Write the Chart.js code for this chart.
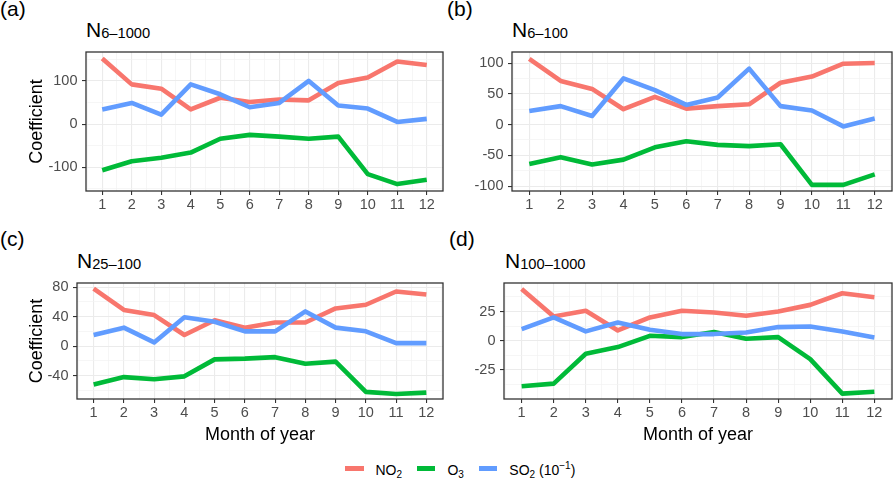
<!DOCTYPE html>
<html>
<head>
<meta charset="utf-8">
<script src="https://cdn.jsdelivr.net/npm/chart.js@4.4.0/dist/chart.umd.min.js"></script>
<style>
body { margin: 0; background: #fff; width: 894px; height: 481px; position: relative; overflow: hidden;
       font-family: "Liberation Sans", Arial, sans-serif; color: #000; }
.panel { position: absolute; width: 447px; }
.tag, .ttl { position: absolute; font-size: 21px; line-height: 21px; white-space: nowrap; }
.ttl .sb { font-size: 14.7px; position: relative; top: 1px; }
#legend { position: absolute; left: 345px; top: 463px; font-size: 14px; line-height: 14px; white-space: nowrap; }
#legend .key { display: inline-block; width: 18.5px; height: 4.5px; vertical-align: middle; position: relative; top: -3px; }
#legend .lab { margin-left: 12px; margin-right: 11px; }
#legend .sb { font-size: 10px; position: relative; top: 3px; }
#legend .sp { font-size: 10px; position: relative; top: -6px; }
</style>
</head>
<body>

<div class="tag" style="left:0px; top:-2.5px;">(a)</div>
<div class="tag" style="left:447px; top:-2.5px;">(b)</div>
<div class="tag" style="left:0px; top:228px;">(c)</div>
<div class="tag" style="left:449px; top:228px;">(d)</div>

<div class="ttl" style="left:86px; top:19px;">N<span class="sb">6–1000</span></div>
<div class="ttl" style="left:512px; top:19px;">N<span class="sb">6–100</span></div>
<div class="ttl" style="left:77px; top:250px;">N<span class="sb">25–100</span></div>
<div class="ttl" style="left:505px; top:250px;">N<span class="sb">100–1000</span></div>

<div class="panel" style="left:0; top:0; height:220px;"><canvas id="pa"></canvas></div>
<div class="panel" style="left:447px; top:0; height:220px;"><canvas id="pb"></canvas></div>
<div class="panel" style="left:0; top:220px; height:230px;"><canvas id="pc"></canvas></div>
<div class="panel" style="left:447px; top:220px; height:230px;"><canvas id="pd"></canvas></div>

<div id="legend">
  <span class="key" style="background:#F8766D"></span><span class="lab">NO<span class="sb">2</span></span>
  <span class="key" style="background:#00BA38"></span><span class="lab">O<span class="sb">3</span></span>
  <span class="key" style="background:#619CFF"></span><span class="lab">SO<span class="sb">2</span> (10<span class="sp">−1</span>)</span>
</div>

<script>
// months on the x axis
var months = [1, 2, 3, 4, 5, 6, 7, 8, 9, 10, 11, 12];

// (a) N6-1000
var no2A = [152, 92, 82, 34, 61, 51, 57, 55, 95, 108, 145, 137];
var o3A  = [-107, -86, -78, -66, -34, -25, -29, -34, -29, -116, -139, -129];
var so2A = [34, 49, 22, 92, 69, 39, 49, 100, 43, 36, 5, 12];
var yMajorA = [-100, 0, 100];
var yMinorA = [-150, -50, 50, 150];

// (b) N6-100
var no2B = [107, 71, 58, 25, 45, 26, 30, 33, 68, 78, 99, 100];
var o3B  = [-64, -53, -65, -57, -37, -27, -33, -35, -32, -98, -98, -81];
var so2B = [22, 30, 14, 75, 56, 32, 44, 91, 30, 23, -3, 10];
var yMajorB = [-100, -50, 0, 50, 100];
var yMinorB = [-75, -25, 25, 75];

// (c) N25-100
var no2C = [78, 49, 42, 15, 35, 25, 32, 32, 51, 56, 74, 70];
var o3C  = [-52, -42, -45, -41, -18, -17, -15, -24, -21, -62, -65, -63];
var so2C = [15, 25, 5, 39, 33, 20, 20, 47, 25, 20, 4, 4];
var yMajorC = [-40, 0, 40, 80];
var yMinorC = [-60, -20, 20, 60];

// (d) N100-1000
var no2D = [44.4, 20.7, 25.6, 8.7, 19.9, 25.6, 24.1, 21.3, 25, 30.7, 40.7, 37.3];
var o3D  = [-39.3, -37, -11.3, -5.6, 4.1, 3, 7.3, 1.6, 3, -15.9, -45.6, -44];
var so2D = [9.9, 19.9, 7.9, 15.6, 9.3, 5.6, 5.6, 7, 11.6, 12.1, 7.9, 2.7];
var yMajorD = [-25, 0, 25];
var yMinorD = [-37.5, -12.5, 12.5, 37.5];

Chart.defaults.font.family = '"Liberation Sans", Arial, sans-serif';
Chart.defaults.animation = false;

var panelBorder = {
    id: 'panelBorder',
    afterDatasetsDraw: function (chart) {
        var a = chart.chartArea, ctx = chart.ctx;
        ctx.save();
        ctx.strokeStyle = '#333333';
        ctx.lineWidth = 1.3;
        ctx.strokeRect(a.left, a.top, a.right - a.left, a.bottom - a.top);
        ctx.restore();
    }
};

function pts(arr) {
    return months.map(function (m, i) { return { x: m, y: arr[i] }; });
}

function gridOpts(majors) {
    return {
        color: function (c) { return majors.indexOf(c.tick.value) >= 0 ? '#EBEBEB' : '#F2F2F2'; },
        lineWidth: function (c) { return majors.indexOf(c.tick.value) >= 0 ? 1.1 : 0.7; },
        tickColor: function (c) { return majors.indexOf(c.tick.value) >= 0 ? '#333333' : 'rgba(0,0,0,0)'; },
        tickLength: 4,
        tickWidth: 1.1
    };
}

function makePanel(id, no2, o3, so2, yMin, yMax, yMajor, yMinor, box) {
    var xMinor = months.map(function (m) { return m - 0.5; }).concat([12.5]);
    var xTicks = months.concat(xMinor).sort(function (p, q) { return p - q; });
    var yTicks = yMajor.concat(yMinor).sort(function (p, q) { return p - q; });

    return new Chart(document.getElementById(id).getContext('2d'), {
        type: 'line',
        data: {
            datasets: [{
                label: 'NO2', data: pts(no2), borderColor: '#F8766D', order: 3
            }, {
                label: 'O3', data: pts(o3), borderColor: '#00BA38', order: 2
            }, {
                label: 'SO2', data: pts(so2), borderColor: '#619CFF', order: 1
            }]
        },
        options: {
            responsive: true,
            maintainAspectRatio: false,
            devicePixelRatio: 1,
            layout: { padding: { left: 0, top: box.top, right: box.right, bottom: 0 } },
            elements: {
                line: { borderWidth: 4.6, tension: 0, fill: false, borderCapStyle: 'butt', borderJoinStyle: 'round' },
                point: { radius: 0 }
            },
            plugins: { legend: { display: false }, tooltip: { enabled: false } },
            scales: {
                x: {
                    type: 'linear', min: 0.45, max: 12.55,
                    afterBuildTicks: function (s) { s.ticks = xTicks.map(function (v) { return { value: v }; }); },
                    afterFit: function (s) { s.height = box.xh; },
                    border: { display: false },
                    grid: gridOpts(months),
                    ticks: {
                        autoSkip: false, maxRotation: 0, padding: 1,
                        color: '#4D4D4D', font: { size: 14.5 },
                        callback: function (v) { return months.indexOf(v) >= 0 ? String(v) : ''; }
                    },
                    title: {
                        display: box.xTitle, text: 'Month of year', color: '#000',
                        font: { size: 18 }, padding: { top: 0, bottom: 4.5 }
                    }
                },
                y: {
                    type: 'linear', min: yMin, max: yMax,
                    afterBuildTicks: function (s) { s.ticks = yTicks.map(function (v) { return { value: v }; }); },
                    afterFit: function (s) { s.width = box.yw; },
                    border: { display: false },
                    grid: gridOpts(yMajor),
                    ticks: {
                        autoSkip: false, padding: 4.5,
                        color: '#4D4D4D', font: { size: 14.5 },
                        callback: function (v) { return yMajor.indexOf(v) >= 0 ? String(v) : ''; }
                    },
                    title: {
                        display: box.yTitle, text: 'Coefficient', color: '#000',
                        font: { size: 18 }, padding: { top: 26, bottom: 0 }
                    }
                }
            }
        },
        plugins: [panelBorder]
    });
}

makePanel('pa', no2A, o3A, so2A, -155, 167, yMajorA, yMinorA,
    { top: 52, right: 4, yw: 86, xh: 29, yTitle: true, xTitle: false });
makePanel('pb', no2B, o3B, so2B, -108, 118, yMajorB, yMinorB,
    { top: 52, right: 2, yw: 65, xh: 29, yTitle: false, xTitle: false });
makePanel('pc', no2C, o3C, so2C, -71.7, 85.5, yMajorC, yMinorC,
    { top: 63, right: 4, yw: 77, xh: 51, yTitle: true, xTitle: true });
makePanel('pd', no2D, o3D, so2D, -50.2, 49.5, yMajorD, yMinorD,
    { top: 63, right: 2, yw: 57, xh: 51, yTitle: false, xTitle: true });
</script>
</body>
</html>
